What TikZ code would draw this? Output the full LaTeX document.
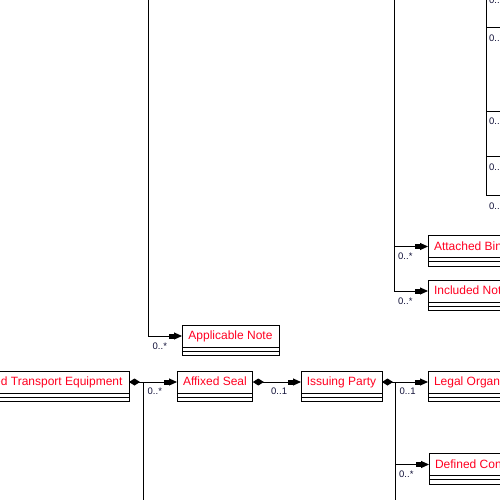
\documentclass[tikz,border=0pt]{standalone}
\usepackage{fontspec}
\setmainfont{Liberation Sans}
\usetikzlibrary{arrows.meta,calc}
\definecolor{labc}{HTML}{101038}
\definecolor{namec}{HTML}{FF0020}
\tikzset{
 cls/.style={draw, line width=1pt, outer sep=0pt, anchor=north west, minimum height=22pt,
   inner xsep=6pt, inner ysep=0pt, text height=9.5pt, text depth=2.5pt,
   font=\fontsize{12pt}{13pt}\selectfont, text=namec},
 boxline/.style={line width=1pt},
 conn/.style={line width=1pt},
 arr/.style={conn, -{Rectangle[length=5pt,width=5pt,sep=0pt]Triangle[length=8pt,width=7pt,sep=0pt]}},
 comp/.style={conn, {Diamond[length=11pt,width=7pt]}-{Rectangle[length=5pt,width=5pt,sep=0pt]Triangle[length=8pt,width=7pt,sep=0pt]}},
 mult/.style={anchor=base west, inner sep=0pt, font=\fontsize{9.5pt}{10pt}\selectfont, text=labc},
}
\newcommand\clsbox[4]{%
 \node[cls,#2] (#1) at #3 {#4};
 \draw[boxline] (#1.south west) rectangle ($(#1.south east)+(0,8.5)$);
 \draw[boxline] ($(#1.south west)+(0,4.25)$) -- ($(#1.south east)+(0,4.25)$);
}
\begin{document}
\begin{tikzpicture}[x=1pt,y=-1pt]
\useasboundingbox (0,0) rectangle (500,500);
\clip (0,0) rectangle (500,500);
% classes
\clsbox{ute}{anchor=north east,inner xsep=6.5pt}{(129,371)}{Utilized Transport Equipment}
\clsbox{as}{minimum width=74pt}{(177,371)}{Affixed Seal}
\clsbox{an}{minimum width=97pt}{(182,325)}{Applicable Note}
\clsbox{ip}{minimum width=81pt,inner xsep=5pt}{(301,371)}{Issuing Party}
\clsbox{lo}{}{(428,371)}{Legal Organization}
\clsbox{ab}{}{(428,235.5)}{Attached Binary File}
\clsbox{in}{}{(428,280)}{Included Note}
\clsbox{dc}{}{(429,453.5)}{Defined Contact}
% off-canvas ends
\coordinate (pA) at (148,-30);
\coordinate (pB) at (394,-30);
\coordinate (pR) at (486,-40);
\coordinate (r0) at (530,-9.5);
\coordinate (r1) at (530,28);
\coordinate (r2) at (530,112);
\coordinate (r3) at (530,156.5);
\coordinate (r4) at (530,195);
\coordinate (uc) at (143,530);
\coordinate (ic) at (395.5,530);
% connectors
\draw[arr] (pA) |- (an.west);
\draw[arr] (pB) |- (ab.west);
\draw[arr] (pB) |- (in.west);
\foreach \k in {0,...,4} \draw[arr] (pR) |- (r\k);
\draw[conn] (ute.east) -| (uc);
\draw[comp] (ute.east) -- (as.west);
\draw[comp] (as.east) -- (ip.west);
\draw[conn] (ip.east) -| (ic);
\draw[arr] (ip.east -| ic) |- (dc.west);
\draw[comp] (ip.east) -- (lo.west);
% multiplicities
\node[mult] (m1) at (152.5,349.5) {0..*};
\node[mult] (m2) at (147.5,394) {0..*};
\node[mult] (m3) at (271,394.5) {0..1};
\node[mult] (m4) at (399.5,394.5) {0..1};
\node[mult] (m5) at (399,477) {0..*};
\node[mult] (m6) at (398,259) {0..*};
\node[mult] (m7) at (398,304) {0..*};
\node[mult] (m8) at (489,3.5) {0..*};
\node[mult] (m9) at (489,42) {0..*};
\node[mult] (m10) at (489,124.5) {0..*};
\node[mult] (m11) at (489,170) {0..*};
\node[mult] (m12) at (489,209) {0..*};
\end{tikzpicture}
\end{document}
